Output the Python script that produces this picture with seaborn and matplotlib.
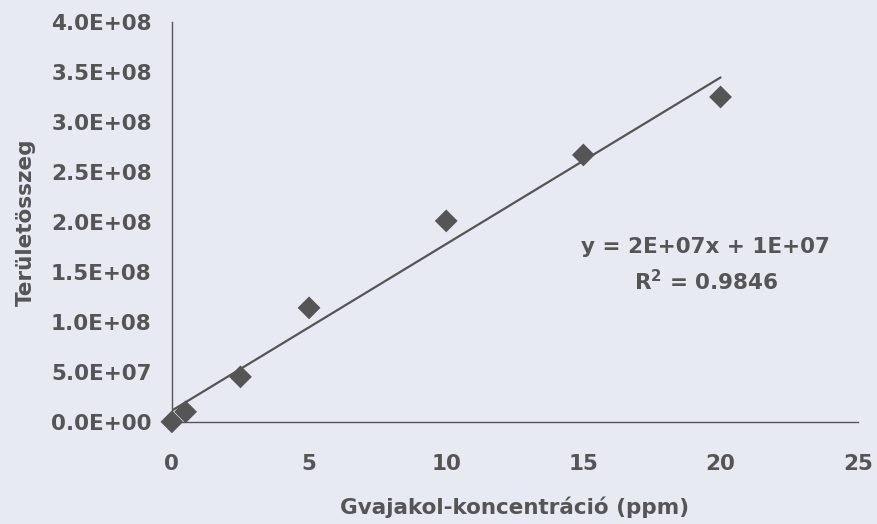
import numpy as np
import pandas as pd
import matplotlib
matplotlib.use("Agg")
import matplotlib.pyplot as plt
import seaborn as sns

# Calibration data: guaiacol concentration (ppm) vs. summed peak area
concentration = [0, 0.5, 2.5, 5, 10, 15, 20]
peak_area = [0.0e8, 0.10e8, 0.45e8, 1.14e8, 2.01e8, 2.67e8, 3.25e8]
x_ticks = [0, 5, 10, 15, 20, 25]
y_ticks = [0, 0.5e8, 1.0e8, 1.5e8, 2.0e8, 2.5e8, 3.0e8, 3.5e8, 4.0e8]
equation_label = "y = 2E+07x + 1E+07"
r2_label = "R$^2$ = 0.9846"

df = pd.DataFrame({"conc": concentration, "area": peak_area})

sns.set_theme(style="white")
plt.rcParams["font.family"] = ["DejaVu Sans"]
plt.rcParams["mathtext.default"] = "bf"

bg = "#e8eaf3"
ink = "#555555"
fs = 15.5

fig = plt.figure(figsize=(8.77, 5.24), dpi=100, facecolor=bg)
ax = fig.add_axes([0.196, 0.195, 0.782, 0.763])
ax.set_facecolor(bg)

# Linear trendline (least squares) over the measured range
slope, intercept = np.polyfit(df["conc"], df["area"], 1)
trend = pd.DataFrame({"conc": [min(concentration), max(concentration)]})
trend["area"] = slope * trend["conc"] + intercept
sns.lineplot(data=trend, x="conc", y="area", ax=ax, color=ink, lw=1.6)

sns.scatterplot(data=df, x="conc", y="area", ax=ax, marker="D", s=135,
                color=ink, edgecolor="none", zorder=3, clip_on=False)

ax.set_xlim(0, 25)
ax.set_ylim(0, 4.0e8)
ax.set_xticks(x_ticks)
ax.set_yticks(y_ticks)
ax.set_xticklabels([str(t) for t in x_ticks])
ax.set_yticklabels([f"{t:.1E}" for t in y_ticks])

for side in ["top", "right"]:
    ax.spines[side].set_visible(False)
for side in ["left", "bottom"]:
    ax.spines[side].set_color(ink)
    ax.spines[side].set_linewidth(1.0)

ax.tick_params(axis="both", direction="out", length=5.5, width=1.0, color=ink,
               labelcolor=ink, labelsize=fs)
ax.tick_params(axis="y", pad=9)
ax.tick_params(axis="x", pad=18)
for lab in ax.get_xticklabels() + ax.get_yticklabels():
    lab.set_fontweight("bold")

ax.set_xlabel("Gvajakol-koncentráció (ppm)", fontsize=fs, fontweight="bold",
              color=ink, labelpad=16)
ax.set_ylabel("Területösszeg", fontsize=fs, fontweight="bold", color=ink,
              labelpad=11)

ax.text(19.46, 1.75e8, equation_label, ha="center", va="center", fontsize=fs,
        fontweight="bold", color=ink)
ax.text(19.5, 1.40e8, r2_label, ha="center", va="center", fontsize=fs,
        fontweight="bold", color=ink)

fig.savefig("out.png", dpi=100, facecolor=bg)
